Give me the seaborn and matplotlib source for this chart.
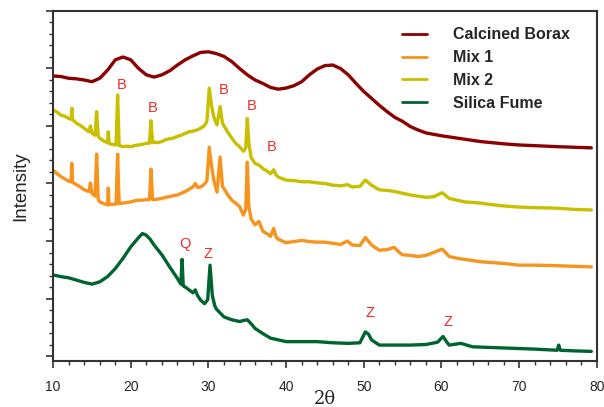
import pandas as pd
import matplotlib
matplotlib.use("Agg")
import matplotlib.pyplot as plt
import seaborn as sns
from matplotlib.ticker import MultipleLocator, NullFormatter

# ---- data (2theta in degrees, offset intensity in arbitrary units)
borax_x = [10, 11, 12, 13, 14, 15, 16, 17, 18, 19, 20, 21, 22, 23, 24, 25, 26, 27, 28, 29,
           30, 31, 32, 33, 34, 35, 36, 37, 38, 39, 40, 41, 42, 43, 44, 45, 46, 47, 48, 49,
           50, 51, 52, 53, 54, 55, 56, 57, 58, 60, 62, 65, 68, 70, 75, 79.3]
borax_y = [4.87, 4.86, 4.83, 4.82, 4.80, 4.77, 4.83, 4.97, 5.15, 5.20, 5.15, 5.00, 4.89, 4.85,
           4.89, 4.96, 5.06, 5.15, 5.22, 5.28, 5.29, 5.26, 5.21, 5.12, 5.00, 4.89, 4.80, 4.74,
           4.67, 4.64, 4.66, 4.70, 4.77, 4.89, 4.99, 5.05, 5.06, 5.00, 4.89, 4.74, 4.60, 4.48,
           4.36, 4.25, 4.15, 4.08, 3.99, 3.93, 3.88, 3.83, 3.79, 3.73, 3.69, 3.67, 3.64, 3.62]

mix2_x = [10.0, 10.5, 11.0, 11.5, 12.0, 12.3, 12.4, 12.5, 13.0, 13.5, 14.0, 14.6, 14.8, 15.0,
          15.4, 15.6, 15.8, 16.0, 16.5, 17.0, 17.1, 17.2, 17.6, 18.1, 18.3, 18.5, 19.0, 19.5,
          20.0, 20.5, 21.0, 21.5, 22.0, 22.4, 22.6, 22.8, 23.0, 23.5, 24.0, 24.5, 25.0, 25.5,
          26.0, 26.5, 27.0, 27.5, 28.0, 28.5, 29.0, 29.5, 29.8, 30.1, 30.4, 30.7, 31.1, 31.5,
          31.8, 32.0, 32.5, 33.0, 33.5, 34.0, 34.5, 34.8, 35.0, 35.2, 35.5, 36.0, 36.5, 37.0,
          37.5, 38.0, 38.4, 38.7, 39.0, 40.0, 41.0, 42.0, 43.0, 44.0, 45.0, 46.0, 47.0, 47.9,
          48.5, 49.5, 50.2, 51.0, 52.0, 53.0, 54.0, 55.0, 56.0, 57.0, 58.0, 59.0, 60.1, 61.0,
          62.0, 63.0, 64.0, 65.0, 66.0, 68.0, 70.0, 72.0, 75.0, 77.0, 79.3]
mix2_y = [4.28, 4.24, 4.19, 4.17, 4.13, 4.12, 4.31, 4.11, 4.05, 4.01, 3.96, 3.90, 4.00, 3.87,
          3.84, 4.25, 3.82, 3.79, 3.74, 3.71, 3.90, 3.70, 3.68, 3.67, 4.54, 3.66, 3.64, 3.65,
          3.64, 3.66, 3.67, 3.68, 3.70, 3.70, 4.09, 3.71, 3.72, 3.71, 3.73, 3.76, 3.78, 3.79,
          3.82, 3.84, 3.87, 3.90, 3.91, 3.93, 3.96, 4.01, 4.08, 4.66, 4.35, 4.15, 4.02, 4.34,
          4.05, 4.00, 3.89, 3.79, 3.70, 3.64, 3.56, 3.62, 4.13, 3.70, 3.45, 3.35, 3.32, 3.26,
          3.22, 3.17, 3.24, 3.15, 3.11, 3.06, 3.05, 3.03, 3.03, 3.01, 3.00, 2.97, 2.96, 2.98,
          2.94, 2.95, 3.06, 2.97, 2.89, 2.88, 2.86, 2.83, 2.80, 2.78, 2.76, 2.77, 2.84, 2.74,
          2.71, 2.68, 2.67, 2.66, 2.64, 2.61, 2.59, 2.58, 2.57, 2.55, 2.54]

mix1_x = [10.0, 10.5, 11.0, 11.5, 12.0, 12.3, 12.4, 12.5, 13.0, 13.5, 14.0, 14.6, 14.8, 15.0,
          15.4, 15.6, 15.8, 16.0, 16.5, 17.0, 17.1, 17.2, 17.6, 18.1, 18.3, 18.5, 19.0, 19.5,
          20.0, 20.5, 21.0, 21.5, 22.0, 22.4, 22.6, 22.8, 23.0, 23.5, 24.0, 24.5, 25.0, 25.5,
          26.0, 26.5, 27.0, 27.5, 28.0, 28.3, 28.6, 29.0, 29.5, 29.8, 30.1, 30.4, 30.7, 31.1,
          31.5, 31.8, 32.0, 32.5, 33.0, 33.5, 34.0, 34.5, 34.8, 35.0, 35.2, 35.5, 36.0, 36.5,
          37.0, 37.5, 38.0, 38.4, 38.7, 39.0, 40.0, 41.0, 42.0, 43.0, 44.0, 45.0, 46.0, 47.0,
          47.9, 48.5, 49.5, 50.2, 51.0, 52.0, 53.0, 53.9, 54.5, 55.0, 56.0, 57.0, 58.0, 59.0,
          60.1, 61.0, 62.0, 63.0, 64.0, 65.0, 66.0, 68.0, 70.0, 72.0, 75.0, 77.0, 79.3]
mix1_y = [3.23, 3.17, 3.12, 3.08, 3.04, 3.03, 3.35, 3.02, 2.98, 2.94, 2.89, 2.86, 3.01, 2.83,
          2.78, 3.51, 2.72, 2.68, 2.65, 2.63, 2.92, 2.63, 2.64, 2.64, 3.51, 2.65, 2.66, 2.67,
          2.68, 2.70, 2.71, 2.71, 2.72, 2.72, 3.25, 2.72, 2.72, 2.73, 2.74, 2.76, 2.77, 2.79,
          2.80, 2.83, 2.86, 2.90, 2.94, 3.00, 2.93, 2.94, 2.99, 3.05, 3.63, 3.30, 3.05, 2.85,
          3.46, 2.95, 2.91, 2.80, 2.71, 2.66, 2.60, 2.45, 2.55, 3.37, 2.60, 2.38, 2.28, 2.34,
          2.17, 2.13, 2.08, 2.22, 2.07, 2.03, 1.97, 1.99, 2.01, 1.99, 1.98, 1.98, 1.96, 1.94,
          2.00, 1.93, 1.92, 2.06, 1.93, 1.84, 1.85, 1.89, 1.81, 1.76, 1.75, 1.73, 1.75, 1.80,
          1.86, 1.73, 1.70, 1.68, 1.66, 1.64, 1.63, 1.61, 1.58, 1.58, 1.57, 1.56, 1.55]

fume_x = [10, 11, 12, 13, 14, 15, 16, 17, 18, 19, 20, 21, 21.5, 22, 22.5, 23, 24, 25, 26,
          26.45, 26.6, 26.75, 27, 27.5, 28, 28.3, 28.6, 29, 29.5, 29.9, 30.2, 30.5, 30.8, 31,
          32, 33, 34, 34.6, 35, 35.5, 36, 37, 38, 39, 40, 42, 44, 46, 48, 49.5, 50.2, 50.6,
          51, 52, 54, 56, 58, 59.5, 60.2, 60.7, 61, 62.5, 64, 66, 70, 72, 74.9, 75.1, 75.3,
          77, 79.3]
fume_y = [1.41, 1.38, 1.36, 1.32, 1.28, 1.25, 1.29, 1.38, 1.52, 1.70, 1.90, 2.06, 2.13, 2.10,
          2.03, 1.93, 1.76, 1.55, 1.35, 1.25, 1.68, 1.22, 1.20, 1.15, 1.10, 1.15, 1.05, 0.97,
          0.91, 0.98, 1.58, 1.05, 0.88, 0.82, 0.68, 0.63, 0.60, 0.62, 0.63, 0.56, 0.48, 0.39,
          0.31, 0.28, 0.25, 0.25, 0.25, 0.23, 0.22, 0.23, 0.42, 0.38, 0.28, 0.19, 0.19, 0.19,
          0.20, 0.24, 0.34, 0.24, 0.19, 0.22, 0.16, 0.15, 0.13, 0.12, 0.10, 0.19, 0.10, 0.09,
          0.08]

series_names = ["Calcined Borax", "Mix 1", "Mix 2", "Silica Fume"]
series_colors = ["#8b0000", "#f7941d", "#c8bf00", "#006430"]

# peak labels: text, 2theta, height
peak_labels = ["B", "B", "B", "B", "B", "Q", "Z", "Z", "Z"]
peak_x = [18.8, 22.8, 31.9, 35.6, 38.1, 27.0, 29.9, 50.8, 60.8]
peak_y = [4.71, 4.31, 4.63, 4.35, 3.64, 1.95, 1.77, 0.74, 0.60]

frames = []
for name, xs, ys in zip(series_names,
                        [borax_x, mix1_x, mix2_x, fume_x],
                        [borax_y, mix1_y, mix2_y, fume_y]):
    frames.append(pd.DataFrame({"two_theta": xs, "intensity": ys, "sample": name}))
df = pd.concat(frames, ignore_index=True)

sns.set_theme(style="ticks")
plt.rcParams['font.family'] = ['Liberation Sans', 'DejaVu Sans']

fig = plt.figure(figsize=(6.04, 4.07), dpi=100)
ax = fig.add_axes([0.088, 0.113, 0.9, 0.86])

sns.lineplot(data=df, x="two_theta", y="intensity", hue="sample",
             hue_order=series_names, palette=dict(zip(series_names, series_colors)),
             estimator=None, linewidth=2.4, ax=ax, legend=False)

for lab, px, py in zip(peak_labels, peak_x, peak_y):
    ax.text(px, py, lab, color="#ee2a2a", fontsize=10.5, ha="center", va="center")

# legend
handles = [plt.Line2D([], [], color=c, linewidth=2.0) for c in series_colors]
leg = ax.legend(handles, series_names, loc="upper left", frameon=False,
                bbox_to_anchor=(0.615, 0.995), handlelength=1.6, handletextpad=1.6,
                labelspacing=0.5, prop={"weight": "bold", "size": 11.5})

ax.set_xlim(10, 80)
ax.set_ylim(-0.087, 6.0)
ax.xaxis.set_major_locator(MultipleLocator(10))
ax.xaxis.set_minor_locator(MultipleLocator(2))
ax.yaxis.set_major_locator(MultipleLocator(1))
ax.yaxis.set_minor_locator(MultipleLocator(0.2))
ax.yaxis.set_major_formatter(NullFormatter())
ax.tick_params(axis="both", which="major", direction="out", length=5, width=1.2,
               color="#333333", labelsize=10, pad=9)
ax.tick_params(axis="both", which="minor", direction="out", length=3, width=1.0,
               color="#333333")
for side in ["left", "right", "top", "bottom"]:
    ax.spines[side].set_visible(True)
    ax.spines[side].set_linewidth(1.5)
    ax.spines[side].set_color("#333333")

ax.set_xlabel("2\u03b8", fontsize=13, family=["DejaVu Serif"])
ax.set_ylabel("Intensity", fontsize=13.5)
ax.xaxis.set_label_coords(0.5, -0.082)
ax.yaxis.set_label_coords(-0.044, 0.5)

fig.savefig("out.png", dpi=100)
